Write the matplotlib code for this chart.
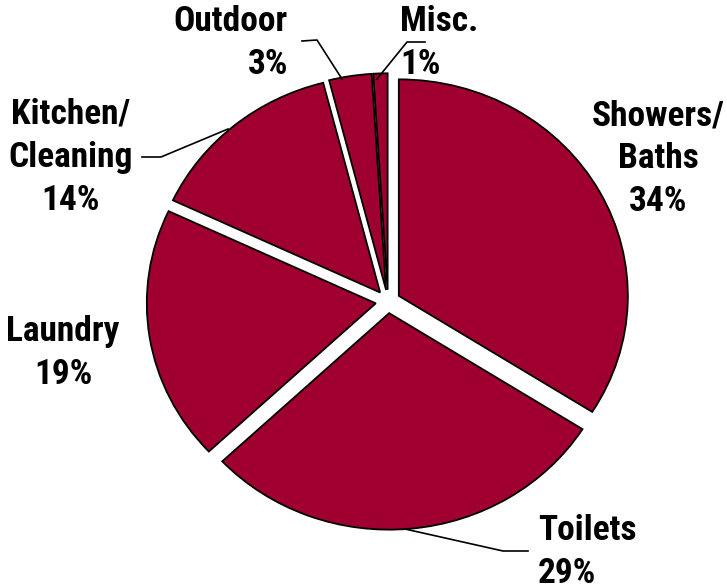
import matplotlib
matplotlib.use("Agg")
import matplotlib.pyplot as plt
from matplotlib import font_manager

categories = ["Showers/\nBaths", "Toilets", "Laundry", "Kitchen/\nCleaning", "Outdoor", "Misc."]
values = [34, 29, 19, 14, 3, 1]
pct_labels = ["34%", "29%", "19%", "14%", "3%", "1%"]

W, H = 727, 587
fig = plt.figure(figsize=(W / 100, H / 100), dpi=100)
ax = fig.add_axes([0, 0, 1, 1])

names = {f.name for f in font_manager.fontManager.ttflist}
fam = ["Roboto Condensed"] if "Roboto Condensed" in names else ["DejaVu Sans"]

face = "#A00030"
wedges, _ = ax.pie(values, startangle=90, counterclock=False,
                   explode=[0.054] * len(values),
                   colors=[face] * len(values),
                   wedgeprops=dict(edgecolor="black", linewidth=1.3))

# elliptical pie (stretched horizontally) -> pixel scales
cx, cy = 388, 301.5
sx, sy = 229.0, 216.5
ax.set_aspect("auto")
ax.set_xlim(-cx / sx, (W - cx) / sx)
ax.set_ylim(-(H - cy) / sy, cy / sy)
ax.axis("off")


def px(x, y):
    return (x / W, 1 - y / H)


label_specs = [
    # index, x, y (cap centre of first line), ha
    (0, 658, 115, "center"),
    (1, 538, 530, "left"),
    (2, 63, 331, "center"),
    (3, 71, 114, "center"),
    (4, 288, 21, "right"),
    (5, 400, 21, "left"),
]
for i, x, y, ha in label_specs:
    lines = (categories[i] + "\n" + pct_labels[i]).split("\n")
    for k, line in enumerate(lines):
        fig.text(*px(x, y + 10 + k * 43), line, ha=ha, va="baseline",
                 fontsize=25.5, fontweight=900, family=fam)

leaders = [
    [(142, 157), (161, 157), (228, 129)],
    [(302, 41), (317, 40), (342, 79)],
    [(425, 42), (407, 42), (377, 79)],
    [(405, 529), (503, 551), (528, 551)],
]
for pts in leaders:
    xs = [p[0] / W for p in pts]
    ys = [1 - p[1] / H for p in pts]
    fig.add_artist(plt.Line2D(xs, ys, color="black", linewidth=1.2,
                              transform=fig.transFigure))

fig.savefig("out.png", dpi=100, facecolor="white")
